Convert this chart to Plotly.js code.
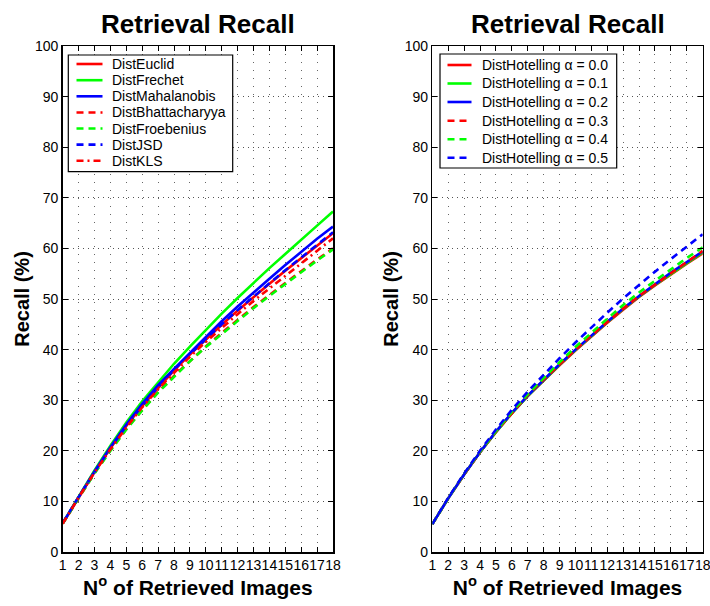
<!DOCTYPE html>
<html><head><meta charset="utf-8">
<script src="https://cdn.plot.ly/plotly-3.0.1.min.js"></script>
<style>html,body{margin:0;padding:0;background:#fff}#chart{width:710px;height:606px}</style>
</head><body><div id="chart"></div>
<script>
// ---------- data ----------
const xValues = [1,2,3,4,5,6,7,8,9,10,11,12,13,14,15,16,17,18];
const xTickLabels = ['1','2','3','4','5','6','7','8','9','10','11','12','13','14','15','16','17','18'];
const yTickValues = [0,10,20,30,40,50,60,70,80,90,100];
const yTickLabels = ['0','10','20','30','40','50','60','70','80','90','100'];

const leftNames = ['DistEuclid','DistFrechet','DistMahalanobis','DistBhattacharyya','DistFroebenius','DistJSD','DistKLS'];
const distEuclid        = [5.6,10.8,15.8,20.5,24.9,28.9,32.5,35.9,39.0,42.0,44.9,47.7,50.4,53.0,55.6,58.1,60.6,63.0];
const distFrechet       = [5.7,11.0,16.1,21.0,25.6,29.8,33.6,37.2,40.6,43.9,47.1,50.2,53.2,56.1,58.9,61.8,64.5,67.3];
const distMahalanobis   = [5.7,10.9,15.9,20.7,25.2,29.3,33.0,36.2,39.4,42.6,45.6,48.5,51.3,54.0,56.7,59.3,61.9,64.3];
const distBhattacharyya = [5.6,10.7,15.6,20.1,24.3,28.1,31.6,34.8,37.8,40.6,43.3,45.9,48.4,50.8,53.2,55.5,57.8,60.0];
const distFroebenius    = [5.6,10.7,15.5,20.0,24.2,28.0,31.5,34.7,37.7,40.5,43.1,45.7,48.2,50.6,53.0,55.3,57.6,59.8];
const distJSD           = [5.7,10.9,15.8,20.5,24.9,28.9,32.6,36.0,39.1,42.1,45.0,47.8,50.5,53.1,55.7,58.2,60.7,63.2];
const distKLS           = [5.6,10.8,15.7,20.3,24.6,28.6,32.2,35.5,38.6,41.5,44.3,47.0,49.6,52.1,54.6,57.1,59.6,62.0];

const rightNames = ['DistHotelling \u03b1 = 0.0','DistHotelling \u03b1 = 0.1','DistHotelling \u03b1 = 0.2',
                    'DistHotelling \u03b1 = 0.3','DistHotelling \u03b1 = 0.4','DistHotelling \u03b1 = 0.5'];
const hotelling00 = [5.5,10.6,15.3,19.7,23.7,27.4,30.8,33.9,36.9,39.8,42.6,45.3,47.9,50.4,52.7,54.9,57.0,59.0];
const hotelling01 = [5.5,10.6,15.3,19.7,23.7,27.4,30.8,34.0,37.0,39.9,42.7,45.4,48.0,50.5,52.8,55.0,57.1,59.2];
const hotelling02 = [5.5,10.6,15.3,19.7,23.8,27.5,30.9,34.1,37.1,40.0,42.8,45.5,48.1,50.6,52.9,55.2,57.3,59.4];
const hotelling03 = [5.5,10.6,15.3,19.7,23.8,27.5,31.0,34.1,37.1,40.0,42.8,45.5,48.1,50.6,52.9,55.1,57.3,59.5];
const hotelling04 = [5.5,10.6,15.4,19.8,23.9,27.7,31.2,34.4,37.5,40.5,43.4,46.1,48.8,51.3,53.6,55.9,58.1,60.2];
const hotelling05 = [5.5,10.7,15.5,20.0,24.2,28.1,31.7,35.1,38.3,41.4,44.4,47.3,50.1,52.8,55.4,57.9,60.4,62.8];

const titleText = 'Retrieval Recall';
const xTitleText = 'N<sup>o</sup> of Retrieved Images';
const yTitleText = 'Recall (%)';

// ---------- styles ----------
const FONT = 'Liberation Sans, Arial, Helvetica, sans-serif';
const W = 710, H = 606;
const RED = '#ff0000', GREEN = '#00ff00', BLUE = '#0000ff';
const DASH = '7px,5px';
const DASHDOT = '7px,4px,2px,4px';
const LW = 2.6;

const leftStyles = [
  {color: RED, dash: 'solid'}, {color: GREEN, dash: 'solid'}, {color: BLUE, dash: 'solid'},
  {color: RED, dash: DASH}, {color: GREEN, dash: DASH}, {color: BLUE, dash: DASH},
  {color: RED, dash: DASHDOT}
];
const rightStyles = [
  {color: RED, dash: 'solid'}, {color: GREEN, dash: 'solid'}, {color: BLUE, dash: 'solid'},
  {color: RED, dash: DASH}, {color: GREEN, dash: DASH}, {color: BLUE, dash: DASH}
];
const leftSeries = [distEuclid, distFrechet, distMahalanobis, distBhattacharyya, distFroebenius, distJSD, distKLS];
const rightSeries = [hotelling00, hotelling01, hotelling02, hotelling03, hotelling04, hotelling05];

const fx = px => px / W;
const fy = py => 1 - py / H;

const traces = [];
leftSeries.forEach((ys, i) => traces.push({
  x: xValues, y: ys, name: leftNames[i], type: 'scatter', mode: 'lines',
  xaxis: 'x', yaxis: 'y', showlegend: false,
  line: {color: leftStyles[i].color, dash: leftStyles[i].dash, width: LW}
}));
rightSeries.forEach((ys, i) => traces.push({
  x: xValues, y: ys, name: rightNames[i], type: 'scatter', mode: 'lines',
  xaxis: 'x2', yaxis: 'y2', showlegend: false,
  line: {color: rightStyles[i].color, dash: rightStyles[i].dash, width: LW}
}));

function xAxis(domain, anchor) {
  return {
    domain: domain, anchor: anchor, range: [1, 18], tickmode: 'array',
    tickvals: xValues, ticktext: xTickLabels, tickangle: 0, ticklabeloverflow: 'allow',
    ticks: 'inside', ticklen: 5, tickwidth: 1,
    tickcolor: '#000', showline: true, linecolor: '#000', linewidth: 1.5, mirror: 'ticks',
    showgrid: true, gridcolor: '#666', gridwidth: 1, griddash: '1px,7px', zeroline: false,
    tickfont: {family: FONT, size: 14, color: '#000'},
    title: {text: xTitleText, font: {family: FONT, size: 21, color: '#000', weight: 'bold'}, standoff: 8}
  };
}
function yAxis(domain, anchor) {
  return {
    domain: domain, anchor: anchor, range: [0, 100], tickmode: 'array',
    tickvals: yTickValues, ticktext: yTickLabels, ticks: 'inside', ticklen: 5, tickwidth: 1,
    tickcolor: '#000', showline: true, linecolor: '#000', linewidth: 1.5, mirror: 'ticks',
    showgrid: true, gridcolor: '#555', gridwidth: 1, griddash: '1px,4px', zeroline: false,
    tickfont: {family: FONT, size: 14, color: '#000'},
    title: {text: yTitleText, font: {family: FONT, size: 20, color: '#000', weight: 'bold'}, standoff: 0}
  };
}

const yDom = [fy(552), fy(46)];
const layout = {
  width: W, height: H, margin: {l: 0, r: 0, t: 0, b: 0},
  paper_bgcolor: '#fff', plot_bgcolor: '#fff', showlegend: false,
  xaxis: xAxis([fx(62.7), fx(333)], 'y'),
  yaxis: yAxis(yDom, 'x'),
  xaxis2: xAxis([fx(432.3), fx(702.7)], 'y2'),
  yaxis2: yAxis(yDom, 'x2'),
  shapes: [], annotations: []
};

// titles
[197.8, 567.5].forEach(cx => layout.annotations.push({
  text: titleText, xref: 'paper', yref: 'paper', x: fx(cx), y: fy(24),
  xanchor: 'center', yanchor: 'middle', showarrow: false,
  font: {family: FONT, size: 26, color: '#000', weight: 'bold'}
}));

// manual legends (Matlab-style compact boxes)
function addLegend(box, rowsY, sampleX0, sampleX1, textX, names, styles) {
  layout.shapes.push({type: 'rect', xref: 'paper', yref: 'paper',
    x0: fx(box[0]), x1: fx(box[1]), y0: fy(box[3]), y1: fy(box[2]),
    line: {color: '#000', width: 1.2}, fillcolor: '#fff', layer: 'above'});
  names.forEach((nm, i) => {
    layout.shapes.push({type: 'line', xref: 'paper', yref: 'paper',
      x0: fx(sampleX0), x1: fx(sampleX1), y0: fy(rowsY[i]), y1: fy(rowsY[i]),
      line: {color: styles[i].color, dash: styles[i].dash, width: LW}, layer: 'above'});
    layout.annotations.push({text: nm, xref: 'paper', yref: 'paper',
      x: fx(textX), y: fy(rowsY[i]), xanchor: 'left', yanchor: 'middle', showarrow: false,
      font: {family: FONT, size: 14, color: '#000'}});
  });
}
addLegend([68.3, 232.7, 55, 171.7], [64, 80.2, 96.3, 112.5, 128.5, 144.6, 160.7], 76.5, 102.5, 110, leftNames, leftStyles);
addLegend([440, 616.7, 54, 168], [65, 83.5, 102, 120.7, 139.2, 157.7], 447.5, 471.5, 479.5, rightNames, rightStyles);

Plotly.newPlot('chart', traces, layout, {staticPlot: true, displayModeBar: false});
</script>
</body></html>
